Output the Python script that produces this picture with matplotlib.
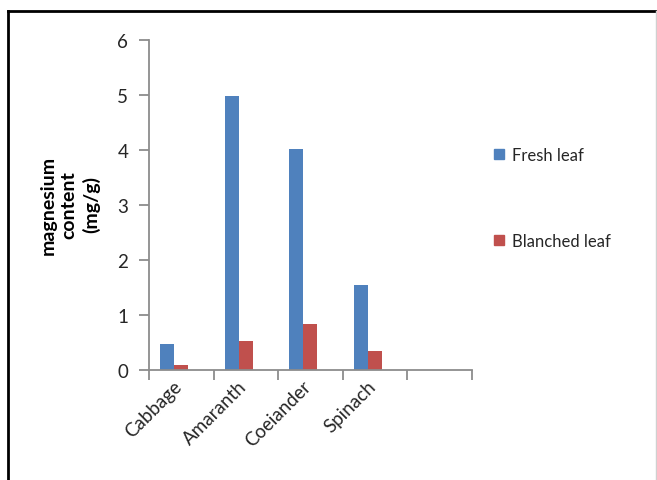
import matplotlib
matplotlib.use("Agg")
from matplotlib import pyplot as plt
from matplotlib.lines import Line2D
import numpy as np

plt.rcParams["font.family"] = ["Lato", "DejaVu Sans"]

# data
categories = ["Cabbage", "Amaranth", "Coeiander", "Spinach", ""]
fresh = [0.47, 4.99, 4.02, 1.54, np.nan]
blanched = [0.09, 0.53, 0.83, 0.35, np.nan]
series_names = ["Fresh leaf", "Blanched leaf"]
yticks = [0, 1, 2, 3, 4, 5, 6]

blue = "#4F81BD"
red = "#C0504D"
axis_grey = "#8C8C8C"

fig = plt.figure(figsize=(6.57, 4.81), dpi=100)
ax = fig.add_axes([149 / 657, 1 - 371 / 481, (472 - 149) / 657, (371 - 41) / 481])

n = len(categories)
x = np.arange(n)
w = 0.217
centre = x + 0.39
ax.bar(centre - w / 2, fresh, w, color=blue, label=series_names[0])
ax.bar(centre + w / 2, blanched, w, color=red, label=series_names[1])

ax.set_xlim(0, n)
ax.set_ylim(0, 6)
ax.set_yticks(yticks)
ax.set_xticks(np.arange(n + 1))
ax.set_xticklabels([])
ax.set_xticks(x + 0.37, minor=True)
ax.set_xticklabels(categories, minor=True, rotation=45, ha="right",
                   rotation_mode="anchor", fontsize=13.5, color="#262626")
ax.tick_params(axis="x", which="minor", length=0, pad=5)
ax.tick_params(axis="x", which="major", length=7, width=1.3, color=axis_grey)
ax.tick_params(axis="y", length=7, width=1.3, color=axis_grey, labelsize=13.5,
               labelcolor="#262626", pad=8)

for s in ["top", "right"]:
    ax.spines[s].set_visible(False)
for s in ["left", "bottom"]:
    ax.spines[s].set_color(axis_grey)
    ax.spines[s].set_linewidth(1.3)

fig.text(70 / 657, 1 - 205 / 481, "magnesium\ncontent\n(mg/g)", rotation=90,
         ha="center", va="center", multialignment="center", fontsize=14,
         fontweight="bold", linespacing=1.3, color="black")

handles = [Line2D([], [], ls="none", marker="s", markersize=7, color=blue),
           Line2D([], [], ls="none", marker="s", markersize=7, color=red)]
fig.legend(handles, series_names, loc="upper left",
           bbox_to_anchor=(477 / 657, 1 - 133 / 481), frameon=False,
           fontsize=12, labelspacing=4.2, handlelength=0.8, handletextpad=0.4,
           labelcolor="#262626")

# outer frame
fig.add_artist(Line2D([8 / 657, 8 / 657], [0, 1 - 12 / 481], color="black",
                      lw=2, transform=fig.transFigure))
fig.add_artist(Line2D([8 / 657, 656 / 657], [1 - 12 / 481, 1 - 12 / 481],
                      color="black", lw=2, transform=fig.transFigure))
fig.add_artist(Line2D([656 / 657, 656 / 657], [0, 1 - 12 / 481], color="#D0D0D0",
                      lw=1, transform=fig.transFigure))

fig.savefig("out.png", dpi=100)
